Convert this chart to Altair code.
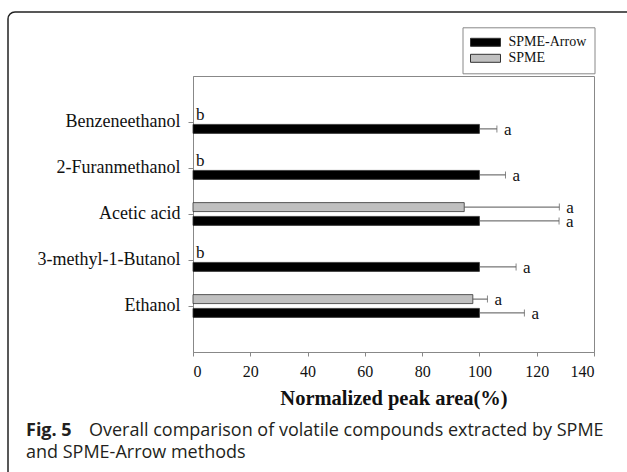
import altair as alt
import pandas as pd

# ---- data ----
compounds = ["Benzeneethanol", "2-Furanmethanol", "Acetic acid", "3-methyl-1-Butanol", "Ethanol"]
series_names = ["SPME-Arrow", "SPME"]
series_colors = ["#000000", "#c0c0c0"]
arrow_mean = [100, 100, 100, 100, 100]
arrow_err = [6.1, 9.1, 27.8, 12.8, 15.7]
arrow_letter = ["a", "a", "a", "a", "a"]
spme_mean = [0, 0, 94.7, 0, 97.7]
spme_err = [0, 0, 33.2, 0, 5.1]
spme_letter = ["b", "b", "a", "b", "a"]
x_ticks = [0, 20, 40, 60, 80, 100, 120, 140]
x_title = "Normalized peak area(%)"
caption_bold = "Fig. 5"
caption_line1 = "Overall comparison of volatile compounds extracted by SPME"
caption_line2 = "and SPME-Arrow methods"

rows = []
for i, c in enumerate(compounds):
    rows.append(dict(compound=c, series="SPME-Arrow", mean=arrow_mean[i], err=arrow_err[i], letter=arrow_letter[i]))
    rows.append(dict(compound=c, series="SPME", mean=spme_mean[i], err=spme_err[i], letter=spme_letter[i]))
df = pd.DataFrame(rows)
df["hi"] = df["mean"] + df["err"]

SERIF = "Liberation Serif"
SANS = "Open Sans"
PL, PT = 193, 76  # plot origin in page pixels

y_enc = alt.Y("compound:N", sort=compounds,
              scale=alt.Scale(paddingInner=0.4, paddingOuter=0.7),
              axis=alt.Axis(title=None, labelFont=SERIF, labelFontSize=18, labelColor="#111",
                            tickSize=5, labelPadding=8, domainColor="#888", tickColor="#888"))
yoff_enc = alt.YOffset("series:N", sort=["SPME", "SPME-Arrow"],
                       scale=alt.Scale(paddingInner=0.35, paddingOuter=0.175))
x_scale = alt.Scale(domain=[0, 140], nice=False)
x_axis = alt.Axis(values=x_ticks, title=x_title, labelFont=SERIF, labelFontSize=16, labelColor="#111",
                  titleFont=SERIF, titleFontSize=20.5, titleFontWeight="bold", titleColor="#111",
                  tickSize=4, labelPadding=7, titlePadding=9, domainColor="#888", tickColor="#888",
                  grid=False)

base = alt.Chart(df)

bars = base.transform_filter("datum.mean > 0").mark_bar(stroke="#333", strokeWidth=0.8).encode(
    x=alt.X("mean:Q", scale=x_scale, axis=x_axis),
    y=y_enc,
    yOffset=yoff_enc,
    color=alt.Color("series:N",
                    scale=alt.Scale(domain=series_names, range=series_colors),
                    legend=alt.Legend(orient="none", legendX=269.5, legendY=-48.7, title=None,
                                      symbolType="M-3.75,-1H3.75V1H-3.75Z", symbolSize=64,
                                      symbolStrokeColor="#333", symbolStrokeWidth=1,
                                      labelFont=SERIF, labelFontSize=14, labelColor="#111",
                                      strokeColor="#888", fillColor="white", padding=8,
                                      rowPadding=2, labelOffset=16, symbolOffset=8)),
)

err_rule = base.transform_filter("datum.err > 0").mark_rule(color="#555", strokeWidth=1).encode(
    x="mean:Q", x2="hi:Q", y=y_enc, yOffset=yoff_enc)
err_cap = base.transform_filter("datum.err > 0").mark_tick(color="#555", size=7, thickness=1).encode(
    x="hi:Q", y=y_enc, yOffset=yoff_enc)

letters_a = base.transform_filter("datum.mean > 0").mark_text(
    align="left", baseline="middle", dx=7, dy=1, font=SERIF, fontSize=17, color="#111").encode(
    x="hi:Q", y=y_enc, yOffset=yoff_enc, text="letter:N")
letters_b = base.transform_filter("datum.mean == 0").mark_text(
    align="left", baseline="middle", dx=3, dy=0, font=SERIF, fontSize=17, color="#111").encode(
    x="mean:Q", y=y_enc, yOffset=yoff_enc, text="letter:N")

one = pd.DataFrame({"k": [0]})
frame = alt.Chart(one).mark_rect(fillOpacity=0, stroke="#222", strokeWidth=1.5, cornerRadius=7).encode(
    x=alt.value(8 - PL), y=alt.value(12 - PT), x2=alt.value(1000), y2=alt.value(1000))

cap_a = alt.Chart(one).mark_text(text=caption_bold, font=SANS, fontWeight="bold", fontSize=18,
                                 align="left", baseline="alphabetic", color="#231f20").encode(
    x=alt.value(26 - PL), y=alt.value(436 - PT))
cap_b = alt.Chart(one).mark_text(text=caption_line1, font=SANS, fontSize=18,
                                 align="left", baseline="alphabetic", color="#231f20").encode(
    x=alt.value(89 - PL), y=alt.value(436 - PT))
cap_c = alt.Chart(one).mark_text(text=caption_line2, font=SANS, fontSize=18,
                                 align="left", baseline="alphabetic", color="#231f20").encode(
    x=alt.value(26 - PL), y=alt.value(457.5 - PT))

chart = alt.layer(frame, bars, err_rule, err_cap, letters_a, letters_b, cap_a, cap_b, cap_c).properties(
    width=401, height=276,
    padding={"left": PL, "top": PT, "right": 627 - PL - 401, "bottom": 472 - PT - 276},
    autosize=alt.AutoSizeParams(type="none"),
    background="white",
).configure_view(stroke="#888", strokeWidth=1)

chart.save("out.html", embed_options={"renderer": "svg", "actions": False})
